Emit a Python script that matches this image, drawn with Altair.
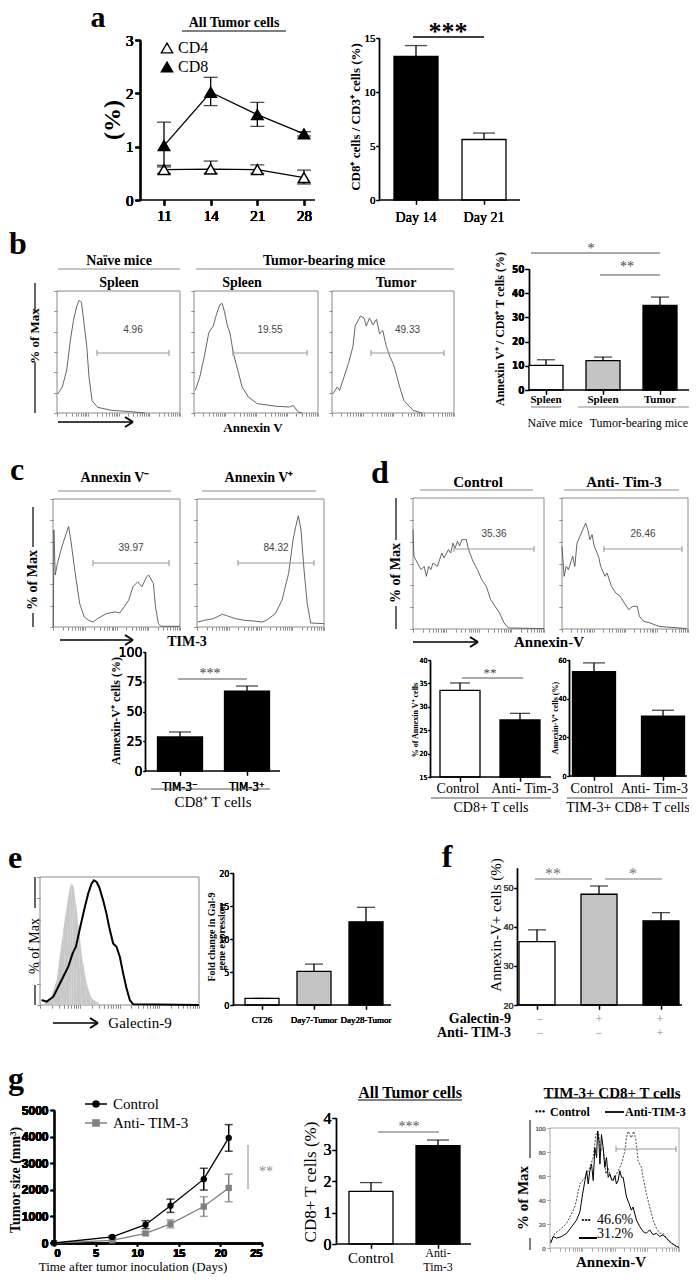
import math
import altair as alt

W, H = 681, 1266
OFF = 8


def P(v):
    return v - OFF


SERIF = "Liberation Serif"
SANS = "Liberation Sans"
NARROW = "Liberation Sans Narrow, DejaVu Sans Condensed, Liberation Sans"
GRAY = "#8a8a8a"
EMPTY = alt.Data(values=[{}])

# ---------------- data ----------------
# a (left): % of all tumor cells
a_days = ["11", "14", "21", "28"]
a_cd4 = [0.57, 0.58, 0.57, 0.42]
a_cd4_lo = [0.50, 0.50, 0.50, 0.30]
a_cd4_hi = [0.65, 0.73, 0.66, 0.56]
a_cd8 = [1.02, 2.02, 1.60, 1.24]
a_cd8_lo = [0.62, 1.77, 1.38, 1.20]
a_cd8_hi = [1.46, 2.30, 1.83, 1.28]
# a (right)
ar_cats = ["Day 14", "Day 21"]
ar_vals = [13.3, 5.6]
ar_errs = [1.0, 0.6]
# b histograms (x: 0-100 across plot, y: % of max)
b1_x = [0.7, 4.3, 7.9, 10.8, 13.4, 15.9, 18.1, 19.9, 21.7, 24.2, 26.0, 28.5, 33.0, 44.0, 62.0, 71.5]
b1_y = [17, 23, 38, 64, 82, 94, 100, 98, 82, 59, 32, 11, 5, 2.4, 1, 0]
b2_x = [1.1, 4.7, 8.3, 11.9, 15.5, 18.3, 20.9, 22.7, 24.5, 27.0, 29.0, 31.7, 35.3, 38.8, 44.0, 51.0, 66.0, 77.0, 80.0, 84.0, 87.0]
b2_y = [20, 32, 50, 71, 77, 88, 96, 97, 90, 77, 71, 53, 38, 23, 14, 8.3, 6, 5.3, 6.8, 0.9, 0]
b3_x = [0.7, 4.4, 6.2, 9.9, 13.5, 17.2, 19.0, 23.4, 26.3, 28.1, 30.7, 33.6, 36.5, 39.0, 41.6, 44.5, 47.4, 50.0, 51.8, 55.5, 59.0, 66.4, 73.7]
b3_y = [17, 23, 20, 32, 44, 59, 77, 86, 84, 77, 84, 78, 83, 70, 73, 59, 50, 44, 38, 23, 11, 2.4, 0]
b_gates = ["4.96", "19.55", "49.33"]
# b (right)
br_cats = ["s1", "s2", "t"]
br_labels = ["Spleen", "Spleen", "Tumor"]
br_vals = [10.2, 12.1, 35.0]
br_errs = [2.3, 1.5, 3.4]
# c histograms
c1_x = [0.3, 0.7, 1.75, 3.5, 7.0, 10.5, 12.3, 14.0, 17.5, 21.0, 24.6, 28.0, 31.6, 35.0, 42.0, 49.0, 52.6, 56.0, 59.6, 63.0, 66.7, 70.0, 73.7, 75.4, 79.0, 80.7, 83.0, 85.0, 100]
c1_y = [0, 96.7, 51.7, 63.4, 80, 93.4, 100, 86.7, 53.4, 23.3, 10, 6.7, 5, 8.3, 13.3, 15, 14, 20, 26.7, 40, 45, 40, 50, 51.7, 43.4, 20, 3.3, 0.7, 0.7]
c2_x = [0.7, 5.9, 12.9, 19.9, 23.3, 30.3, 37.3, 44.3, 51.2, 54.7, 61.7, 66.9, 72.1, 75.6, 77.7, 79.8, 81.9, 84.3, 86.8, 89.5, 100]
c2_y = [4.5, 6, 7.5, 11.4, 10.2, 7.5, 6, 5.4, 4.5, 6, 12, 24, 48, 78, 90, 100, 87, 51, 21, 3.6, 3]
c_gates = ["39.97", "84.32"]
# c bars
cb_cats = ["TIM-3⁻", "TIM-3⁺"]
cb_vals = [28.6, 67.2]
cb_errs = [4.2, 4.2]
# d histograms
d1_x = [0, 0.7, 3.4, 6.1, 8.5, 10.2, 11.9, 13.6, 15.3, 18.6, 22.0, 23.7, 27.1, 28.8, 30.5, 32.2, 33.9, 35.6, 37.3, 40.7, 42.4, 45.8, 49.2, 52.5, 55.9, 59.3, 62.7, 66.1, 69.5, 72.9, 100]
d1_y = [75.8, 55.5, 50.4, 45.3, 47.8, 40.2, 47.8, 45.3, 50.4, 47.8, 58, 54.2, 60.6, 58, 65.6, 61.8, 66.9, 63.4, 68.2, 68.2, 60.6, 51.7, 45.3, 37.7, 32.6, 22.4, 17.3, 12.2, 4.6, 0.8, 0.3]
d2_x = [0, 1.7, 3.4, 5.1, 8.5, 10.2, 11.9, 15.4, 18.8, 20.5, 22.2, 23.9, 25.6, 29.0, 30.7, 34.1, 35.8, 39.2, 42.7, 46.1, 49.5, 52.9, 56.3, 59.7, 61.4, 64.8, 70.0, 76.8, 99]
d2_y = [63.1, 40.2, 47.8, 45.3, 55.5, 47.8, 65.6, 73.3, 80.9, 75.8, 68.2, 72, 63.1, 55.5, 47.8, 40.2, 42.7, 32.6, 27.5, 25, 19.8, 14.8, 17.3, 17.3, 9.7, 5.9, 4.6, 2, 0.3]
d_gates = ["35.36", "26.46"]
# d bars
dl_cats = ["Control", "Anti- Tim-3"]
dl_vals = [33.5, 27.2]
dl_errs = [1.6, 1.4]
dr_cats = ["Control", "Anti- Tim-3"]
dr_vals = [54.0, 31.0]
dr_errs = [4.5, 3.0]
# e histogram
e_g_x = [1, 6.3, 10.5, 14.6, 16.7, 18.8, 19.9, 21.3, 23.4, 26.2, 29.3, 32.4, 37.7, 41.8]
e_g_y = [0, 3.9, 19.5, 58.4, 76.6, 92.2, 95.3, 92.2, 71.4, 40.3, 16.9, 5.2, 0.8, 0]
e_k_x = [1, 4.2, 8.4, 13.6, 17.8, 20.5, 22.6, 25.1, 28.2, 30.3, 32.4, 33.9, 35.6, 37.2, 39.7, 41.8, 43.5, 46.0, 48.1, 50.2, 52.3, 54.4, 56.5, 58.6, 100]
e_k_y = [3.9, 2.6, 6.5, 19.5, 29.9, 40.3, 45.5, 59.7, 76.6, 87, 94.8, 97.4, 96.1, 92.2, 81.8, 71.4, 61, 48.1, 45.5, 37.7, 24.7, 13, 3.9, 0.5, 0]
# e bars
eb_cats = ["CT26", "Day7-Tumor", "Day28-Tumor"]
eb_vals = [1.0, 5.1, 12.6]
eb_errs = [0.0, 1.1, 2.2]
# f bars
f_cats = ["1", "2", "3"]
f_vals = [36.2, 48.3, 41.5]
f_errs = [3.0, 2.1, 2.1]
f_gal = ["−", "+", "+"]
f_tim = ["−", "−", "+"]
# g tumor growth
g_days = [0, 7, 11, 14, 18, 21]
g_ctrl = [0, 230, 690, 1400, 2400, 3950]
g_ctrl_err = [0, 40, 150, 250, 410, 500]
g_anti = [0, 100, 360, 720, 1370, 2070]
g_anti_err = [0, 30, 60, 150, 370, 520]
# g middle bars
gm_cats = ["Control", "Anti-Tim-3"]
gm_vals = [1.67, 3.12]
gm_errs = [0.28, 0.18]
# g right histogram
gr_s_x = [0.5, 2.6, 5.2, 9.0, 12.9, 16.8, 20.6, 23.2, 25.3, 27.1, 28.4, 29.6, 30.9, 32.2, 33.5, 34.8, 36.1, 36.9, 37.9, 38.7, 39.9, 41.2, 42.5, 43.8, 45.1, 46.4, 47.7, 49.0, 50.3, 51.5, 52.8, 54.1, 55.4, 56.7, 58.0, 59.3, 61.3, 63.1, 64.4, 67.0, 69.6, 72.2, 74.7, 77.3, 79.9, 82.5, 85.1, 87.6, 90.2, 94.1, 97.9, 100]
gr_s_y = [4.1, 9.6, 8.2, 9.6, 12.3, 17.8, 23.3, 30.1, 45.2, 56.2, 64.4, 53.4, 64.4, 69.9, 56.2, 83.6, 75.4, 97.3, 89.1, 69.9, 94.5, 83.6, 67.1, 75.4, 58.9, 61.7, 57.5, 56.2, 60.3, 53.4, 56.2, 64.4, 58.9, 58.9, 50.7, 42.5, 37, 31.5, 34.2, 23.3, 17.8, 13.7, 12.3, 15.1, 11, 12.3, 9.6, 11, 8.2, 4.1, 1.4, 0.5]
gr_d_x = [0.5, 3.9, 7.7, 12.9, 15.5, 19.3, 23.2, 27.1, 30.9, 33.5, 35.6, 37.4, 39.2, 41.2, 43.3, 45.1, 47.7, 50.3, 52.8, 55.4, 58.0, 59.3, 60.6, 61.9, 63.1, 64.9, 66.5, 68.3, 70.9, 72.2, 74.7, 77.3, 79.9, 82.5, 85.1, 87.6, 90.2, 94.1, 97.9, 100]
gr_d_y = [5.5, 12.3, 15.1, 20.6, 26, 34.2, 53.4, 58.9, 67.1, 75.4, 94.5, 97.3, 80.8, 83.6, 61.7, 67.1, 56.2, 58.9, 64.4, 69.9, 80.8, 91.8, 97.3, 94.5, 91.8, 97.3, 90.4, 72.6, 67.1, 58.9, 45.2, 34.2, 23.3, 16.4, 12.3, 12.3, 8.2, 4.1, 1.4, 0.5]

WHITE, HATCH, BLACK = "#ffffff", "#c4c4c4", "#000000"

# axis tick positions for log-decade flow axes (style only)
LOGT = [round(d * 25 + 25 * math.log10(k), 2) for d in range(4) for k in range(1, 10)] + [100]


# ---------------- helpers ----------------
def T(s, x, y, size=13, bold=False, angle=0, align="center", font=SERIF, color="black",
      baseline="middle", lineHeight=None):
    kw = dict(text=s, fontSize=size, fontWeight="bold" if bold else "normal", align=align,
              baseline=baseline, font=font, color=color)
    if angle:
        kw["angle"] = angle
    if lineHeight:
        kw["lineHeight"] = lineHeight
    return alt.Chart(EMPTY).mark_text(**kw).encode(x=alt.value(P(x)), y=alt.value(P(y)))


def L(x1, y1, x2, y2, w=1.0, color="black", dash=None):
    kw = dict(color=color, strokeWidth=w)
    if dash:
        kw["strokeDash"] = dash
    return alt.Chart(EMPTY).mark_rule(**kw).encode(
        x=alt.value(P(x1)), y=alt.value(P(y1)), x2=alt.value(P(x2)), y2=alt.value(P(y2)))


def arrow(x1, x2, y, w=1.6):
    return [L(x1, y, x2, y, w), L(x2 - 8, y - 5, x2, y, w + 0.4), L(x2 - 8, y + 5, x2, y, w + 0.4)]


def gate(x1, x2, y, color="#9a9a9a"):
    return [L(x1, y, x2, y, 1.1, color), L(x1, y - 3, x1, y + 3, 1.1, color), L(x2, y - 3, x2, y + 3, 1.1, color)]


def pt(x, y, shape, size, fill, stroke="black"):
    return alt.Chart(EMPTY).mark_point(shape=shape, size=size, filled=True, fill=fill, stroke=stroke,
                                       strokeWidth=1.3, opacity=1).encode(x=alt.value(P(x)), y=alt.value(P(y)))


def histo(curves, x0, x1, ybot, ytop, ymax, frame_color=GRAY, ylabels=False, yvals=None):
    xsc = alt.Scale(domain=[0, 100], range=[P(x0), P(x1)], nice=False, zero=False)
    ysc = alt.Scale(domain=[0, ymax], range=[P(ybot), P(ytop)], nice=False, zero=False)
    xax = alt.Axis(orient="bottom", offset=P(ybot) - H, values=LOGT, labels=False, domain=False,
                   ticks=True, tickSize=3, tickColor=frame_color, tickWidth=0.8, title=None, grid=False)
    yv = yvals if yvals else [round(ymax * k / 6, 2) for k in range(7)]
    yax = alt.Axis(orient="left", offset=-P(x0), values=yv, labels=ylabels, domain=False, ticks=True,
                   tickSize=3, tickColor=frame_color, tickWidth=0.8, title=None, grid=False,
                   labelFontSize=6, labelColor="#777", labelFont=SANS, labelPadding=2)
    frame = alt.Chart(alt.Data(values=[{"x": 0, "x2": 100, "y": 0, "y2": ymax}])).mark_rect(
        fill="transparent", stroke=frame_color, strokeWidth=1).encode(
        x=alt.X("x:Q", scale=xsc, axis=xax), x2=alt.X2("x2"),
        y=alt.Y("y:Q", scale=ysc, axis=yax), y2=alt.Y2("y2"))
    layers = [frame]
    for xs, ys, kind, sty in curves:
        d = alt.Data(values=[{"x": a, "y": b, "i": i} for i, (a, b) in enumerate(zip(xs, ys))])
        m = alt.Chart(d).mark_area(**sty) if kind == "area" else alt.Chart(d).mark_line(**sty)
        layers.append(m.encode(x=alt.X("x:Q", scale=xsc, axis=xax),
                               y=alt.Y("y:Q", scale=ysc, axis=yax), order="i:Q"))
    return layers


def bar_panel(cats, vals, errs, fills, axis_x, c0, step, bw, ybot, ytop, ydom, yticks, x_end, cap,
              ylab_font=SERIF, ylab_size=12, ylab_weight="normal", ylab_color="black",
              xlab_font=None, xlab_size=12, xlab_pad=5, ytick=4):
    n = len(cats)
    pi = 1 - bw / step
    start = c0 - step / 2
    end = start + n * step
    rows = [{"cat": c, "val": v, "hi": v + e, "base": ydom[0], "fill": f}
            for c, v, e, f in zip(cats, vals, errs, fills)]
    data = alt.Data(values=rows)
    xax = alt.Axis(orient="bottom", offset=P(ybot) - H, domain=False, ticks=True, tickSize=4,
                   tickWidth=1.2, tickColor="black", labels=xlab_font is not None,
                   labelFont=xlab_font or SERIF, labelFontSize=xlab_size, labelColor="black",
                   labelPadding=xlab_pad, labelAngle=0, title=None, grid=False)
    xenc = alt.X("cat:N", sort=cats, axis=xax,
                 scale=alt.Scale(type="band", domain=cats, range=[P(start), P(end)],
                                 paddingInner=pi, paddingOuter=pi / 2))
    ysc = alt.Scale(domain=ydom, range=[P(ybot), P(ytop)], nice=False, zero=False)
    yax = alt.Axis(orient="left", offset=-P(axis_x), values=yticks, domain=True, domainColor="black",
                   domainWidth=1.3, ticks=True, tickSize=ytick, tickWidth=1.2, tickColor="black",
                   labelFont=ylab_font, labelFontSize=ylab_size, labelFontWeight=ylab_weight,
                   labelColor=ylab_color, labelPadding=1, title=None, grid=False)
    bars = alt.Chart(data).mark_bar(stroke="black", strokeWidth=1.3).encode(
        x=xenc, y=alt.Y("val:Q", scale=ysc, axis=yax), y2=alt.Y2("base"),
        color=alt.Color("fill:N", scale=None))
    rule = alt.Chart(data).mark_rule(color="black", strokeWidth=1.3).encode(
        x=xenc, y=alt.Y("val:Q", scale=ysc, axis=yax), y2=alt.Y2("hi"))
    capm = alt.Chart(data).mark_tick(color="black", thickness=1.3, size=cap, orient="horizontal").encode(
        x=xenc, y=alt.Y("hi:Q", scale=ysc, axis=yax))
    return [bars, rule, capm, L(axis_x, ybot, x_end, ybot, 1.3)]


layers = []

# ================= panel a =================
layers += [T("a", 98, 27, 30, True, baseline="alphabetic"),
           T("All Tumor cells", 234, 23, 14, True), L(182, 31, 286, 31, 1)]
a_xax = alt.Axis(orient="bottom", offset=P(200) - H, domain=False, tickSize=5, tickWidth=1.3,
                 tickColor="black", labelFont=SERIF, labelFontSize=15, labelColor="black",
                 labelPadding=3, labelAngle=0, title=None, grid=False)
a_x = alt.X("d:N", sort=a_days, axis=a_xax,
            scale=alt.Scale(type="point", domain=a_days, range=[P(164), P(304)], padding=0))
a_ysc = alt.Scale(domain=[0, 3], range=[P(200), P(40)], nice=False, zero=False)
a_yax = alt.Axis(orient="left", offset=-P(140), values=[0, 1, 2, 3], domainColor="black",
                 domainWidth=1.3, tickSize=5, tickWidth=1.3, tickColor="black", labelFont=SERIF,
                 labelFontSize=15, labelColor="black", labelPadding=2, title=None, grid=False)
for v, lo, hi, fill in [(a_cd4, a_cd4_lo, a_cd4_hi, "white"), (a_cd8, a_cd8_lo, a_cd8_hi, "black")]:
    d = alt.Data(values=[{"d": dd, "v": a, "lo": b, "hi": c} for dd, a, b, c in zip(a_days, v, lo, hi)])
    layers += [
        alt.Chart(d).mark_line(color="black", strokeWidth=1.3).encode(x=a_x, y=alt.Y("v:Q", scale=a_ysc, axis=a_yax)),
        alt.Chart(d).mark_rule(color="black", strokeWidth=1.3).encode(x=a_x, y=alt.Y("lo:Q", scale=a_ysc, axis=a_yax), y2=alt.Y2("hi")),
        alt.Chart(d).mark_tick(color="black", thickness=1.3, size=14, orient="horizontal").encode(x=a_x, y=alt.Y("hi:Q", scale=a_ysc, axis=a_yax)),
        alt.Chart(d).mark_tick(color="black", thickness=1.3, size=14, orient="horizontal").encode(x=a_x, y=alt.Y("lo:Q", scale=a_ysc, axis=a_yax)),
        alt.Chart(d).mark_point(shape="triangle-up", size=130, filled=True, fill=fill, stroke="black",
                                strokeWidth=1.5, opacity=1).encode(x=a_x, y=alt.Y("v:Q", scale=a_ysc, axis=a_yax)),
    ]
layers += [L(140, 200, 315, 200, 1.3),
           pt(167, 48, "triangle-up", 130, "white"), pt(167, 67, "triangle-up", 130, "black"),
           T("CD4", 178, 48, 16, align="left"), T("CD8", 178, 67, 16, align="left"),
           T("(%)", 113, 120, 24, True, angle=270)]
# a right
layers += bar_panel(ar_cats, ar_vals, ar_errs, [BLACK, WHITE], 379, 416, 68, 44, 200, 38, [0, 15],
                    [0, 5, 10, 15], 520, 22, ylab_size=11, xlab_font=SERIF, xlab_size=14, xlab_pad=6, ytick=3)
layers += [T("***", 448, 40, 26, True, baseline="alphabetic"), L(413, 37, 484, 37, 1.6),
           T("CD8⁺ cells / CD3⁺ cells (%)", 356, 117, 13, True, angle=270)]

# ================= panel b =================
layers += [T("b", 18, 254, 32, True, baseline="alphabetic"),
           T("Naïve mice", 119, 261, 14, True), L(58, 269, 180, 269, 1.2, GRAY),
           T("Tumor-bearing mice", 324, 261, 14, True), L(196, 269, 454, 269, 1.2, GRAY),
           T("Spleen", 119, 283, 14, True), T("Spleen", 242, 283, 14, True), T("Tumor", 396, 283, 14, True)]
hsty = {"color": "#555", "strokeWidth": 0.9}
layers += histo([(b1_x, b1_y, "line", hsty)], 57, 180, 413, 291, 108)
layers += histo([(b2_x, b2_y, "line", hsty)], 194, 318, 413, 291, 108)
layers += histo([(b3_x, b3_y, "line", hsty)], 332, 454, 413, 291, 108)
for (gx1, gx2), lab in zip([(97, 169), (233, 307), (371, 444)], b_gates):
    layers += gate(gx1, gx2, 353)
    layers.append(T(lab, (gx1 + gx2) / 2, 330, 10, font=SANS, color="#444"))
layers += [T("% of Max", 35, 336, 13, True, angle=270), L(35, 283, 35, 312, 1.2), L(35, 362, 35, 413, 1.2)]
layers += arrow(58, 133, 422)
layers += [T("Annexin V", 253, 428, 13, True)]
# b right
layers += bar_panel(br_cats, br_vals, br_errs, [WHITE, HATCH, BLACK], 529, 546, 57, 34, 390, 269, [0, 50],
                    [0, 10, 20, 30, 40, 50], 689, 18, ylab_font=NARROW, ylab_size=10, ylab_weight="bold")
for cx, lab in zip([546, 603, 660], br_labels):
    layers.append(T(lab, cx, 400, 11, True))
layers += [L(531, 407, 561, 407, 1.2, GRAY), L(578, 407, 689, 407, 1.2, GRAY),
           T("Naïve mice", 555, 423, 12), T("Tumor-bearing mice", 688, 423, 12, align="right"),
           T("*", 591, 249, 14, color="#444"), L(531, 253, 660, 253, 1, "#555"),
           T("**", 627, 267, 14, color="#444"), L(600, 275, 660, 275, 1, "#555"),
           T("Annexin V⁺ / CD8⁺ T cells (%)", 500, 329, 12, True, angle=270)]

# ================= panel c =================
layers += [T("c", 17, 480, 32, True, baseline="alphabetic"),
           T("Annexin V⁻", 115, 478, 14, True), L(58, 491, 171, 491, 1.2, GRAY),
           T("Annexin V⁺", 259, 478, 14, True), L(202, 491, 316, 491, 1.2, GRAY)]
layers += histo([(c1_x, c1_y, "line", hsty)], 53, 180, 627, 499, 127.4)
layers += histo([(c2_x, c2_y, "line", hsty)], 197, 324, 627, 499, 115)
for (gx1, gx2), lab in zip([(93, 169), (238, 314)], c_gates):
    layers += gate(gx1, gx2, 563)
    layers.append(T(lab, (gx1 + gx2) / 2, 548, 10, font=SANS, color="#444"))
layers += [T("% of Max", 33, 580, 14, True, angle=270), L(33, 507, 33, 547, 1.2), L(33, 613, 33, 627, 1.2)]
layers += arrow(60, 133, 640)
layers += [T("TIM-3", 187, 642, 14, True)]
layers += bar_panel(cb_cats, cb_vals, cb_errs, [BLACK, BLACK], 145, 180, 67, 45, 771, 652, [0, 100],
                    [0, 25, 50, 75, 100], 280, 22, ylab_font=NARROW, ylab_size=14,
                    xlab_font=NARROW, xlab_size=12, xlab_pad=6, ytick=2)
layers += [T("***", 210, 674, 14, color="#444"), L(178, 679, 247, 679, 1, "#555"),
           T("Annexin-V⁺ cells (%)", 116, 711, 12, True, angle=270),
           L(151, 789, 270, 789, 1.2, "#555"), T("CD8⁺ T cells", 213, 802, 15)]

# ================= panel d =================
layers += [T("d", 380, 483, 32, True, baseline="alphabetic"),
           T("Control", 478, 482, 15, True), L(420, 490, 533, 490, 1.2, GRAY),
           T("Anti- Tim-3", 624, 482, 15, True), L(564, 490, 679, 490, 1.2, GRAY)]
layers += histo([(d1_x, d1_y, "line", hsty)], 413, 544, 629, 498, 100)
layers += histo([(d2_x, d2_y, "line", hsty)], 562, 688, 629, 498, 100)
for (gx1, gx2), lab in zip([(454, 534), (604, 682)], d_gates):
    layers += gate(gx1, gx2, 549)
    layers.append(T(lab, (gx1 + gx2) / 2, 534, 10, font=SANS, color="#444"))
layers += [T("% of Max", 396, 573, 14, True, angle=270), L(396, 498, 396, 540, 1.2), L(396, 606, 396, 629, 1.2)]
layers += arrow(413, 478, 642)
layers += [T("Annexin-V", 549, 642, 15, True)]
layers += bar_panel(dl_cats, dl_vals, dl_errs, [WHITE, BLACK], 430, 460, 60, 40, 777, 660, [15, 40],
                    [15, 20, 25, 30, 35, 40], 551, 20, ylab_font=NARROW, ylab_size=7, ytick=2)
layers += [T("Control", 458, 789, 14), T("Anti- Tim-3", 525, 789, 14),
           T("**", 490, 673, 13, color="#444"), L(462, 678, 523, 678, 1, "#555"),
           T("% of Annexin V⁺ cells", 416, 720, 8, True, angle=270),
           L(431, 798, 551, 798, 1.2, "#555"), T("CD8+ T cells", 491, 808, 14)]
layers += bar_panel(dr_cats, dr_vals, dr_errs, [BLACK, BLACK], 569, 594, 69, 43, 776, 660, [0, 60],
                    [0, 20, 40, 60], 687, 22, ylab_font=NARROW, ylab_size=7, ytick=2)
layers += [T("Control", 592, 789, 14), T("Anti- Tim-3", 688, 789, 14, align="right"),
           T("Annexin-V⁺ cells (%)", 556, 718, 8, True, angle=270),
           L(567, 798, 687, 798, 1.2, "#555"), T("TIM-3+ CD8+ T cells", 628, 808, 14)]

# ================= panel e =================
layers += [T("e", 15, 868, 32, True, baseline="alphabetic")]
layers += histo([(e_g_x, e_g_y, "area", {"color": "#c8c8c8"}),
                 (e_k_x, e_k_y, "line", {"color": "black", "strokeWidth": 2})], 40, 199, 1005, 877, 100)
layers += [T("% of Max", 35, 946, 14, angle=270), L(35, 877, 35, 908, 1.2), L(35, 985, 35, 1005, 1.2)]
layers += arrow(53, 98, 1023)
layers += [T("Galectin-9", 140, 1023, 15)]
layers += bar_panel(eb_cats, eb_vals, eb_errs, [WHITE, HATCH, BLACK], 233, 262, 52, 34, 1005, 873, [0, 20],
                    [0, 5, 10, 15, 20], 391, 18, ylab_font=NARROW, ylab_size=9,
                    xlab_font=SERIF, xlab_size=9, xlab_pad=6, ytick=3)
layers += [T("Fold change in Gal-9", 212, 937, 10, True, angle=270),
           T("gene expression", 222, 937, 10, True, angle=270)]

# ================= panel f =================
layers += [T("f", 447, 867, 32, True, baseline="alphabetic")]
layers += bar_panel(f_cats, f_vals, f_errs, [WHITE, HATCH, BLACK], 517, 537, 62, 36, 1005, 868, [20, 55],
                    [20, 30, 40, 50], 682, 18, ylab_font=SANS, ylab_size=9, ylab_color="#444", ytick=3)
layers += [T("**", 553, 874, 16, color="#777"), L(535, 879, 592, 879, 1, "#777"),
           T("*", 633, 874, 16, color="#777"), L(605, 879, 662, 879, 1, "#777"),
           T("Annexin-V+ cells (%)", 496, 925, 15, angle=270),
           T("Galectin-9", 511, 1019, 14, True, align="right"),
           T("Anti- TIM-3", 511, 1033, 14, True, align="right")]
for cx, g1, t1 in zip([540, 599, 660], f_gal, f_tim):
    layers += [T(g1, cx, 1019, 12, color="#888"), T(t1, cx, 1033, 12, color="#888")]

# ================= panel g =================
layers += [T("g", 16, 1089, 32, True, baseline="alphabetic")]
G_BOT = 1243
g_xsc = alt.Scale(domain=[0, 25], range=[P(54), P(262)], nice=False, zero=False)
g_ysc = alt.Scale(domain=[0, 5000], range=[P(G_BOT), P(1110)], nice=False, zero=False)
g_xax = alt.Axis(orient="bottom", offset=P(G_BOT) - H, values=[0, 5, 10, 15, 20, 25], domainColor="black",
                 domainWidth=1.3, tickSize=3, tickWidth=1.2, tickColor="black", labelFont=SANS,
                 labelFontSize=11, labelFontWeight="bold", labelColor="black", labelPadding=1,
                 title=None, grid=False, format="d")
g_yax = alt.Axis(orient="left", offset=-P(54), values=[0, 1000, 2000, 3000, 4000, 5000], domainColor="black",
                 domainWidth=1.3, tickSize=4, tickWidth=1.2, tickColor="black", labelFont=SANS,
                 labelFontSize=12, labelFontWeight="bold", labelColor="black", labelPadding=2,
                 title=None, grid=False, format="d")
for v, e, col, shape in [(g_anti, g_anti_err, "#808080", "square"), (g_ctrl, g_ctrl_err, "black", "circle")]:
    d = alt.Data(values=[{"t": t, "v": a, "lo": a - b, "hi": a + b} for t, a, b in zip(g_days, v, e)])
    gx = alt.X("t:Q", scale=g_xsc, axis=g_xax)
    layers += [
        alt.Chart(d).mark_line(color=col, strokeWidth=1.3).encode(x=gx, y=alt.Y("v:Q", scale=g_ysc, axis=g_yax)),
        alt.Chart(d).mark_rule(color=col, strokeWidth=1.5).encode(x=gx, y=alt.Y("lo:Q", scale=g_ysc, axis=g_yax), y2=alt.Y2("hi")),
        alt.Chart(d).mark_tick(color=col, thickness=1.5, size=8, orient="horizontal").encode(x=gx, y=alt.Y("hi:Q", scale=g_ysc, axis=g_yax)),
        alt.Chart(d).mark_tick(color=col, thickness=1.5, size=8, orient="horizontal").encode(x=gx, y=alt.Y("lo:Q", scale=g_ysc, axis=g_yax)),
        alt.Chart(d).mark_point(shape=shape, size=40, filled=True, color=col, opacity=1).encode(x=gx, y=alt.Y("v:Q", scale=g_ysc, axis=g_yax)),
    ]
layers += [L(85, 1104, 107, 1104, 1.5), pt(96, 1104, "circle", 40, "black"), T("Control", 113, 1104, 15, align="left"),
           L(85, 1123, 107, 1123, 1.5, "#808080"), pt(96, 1123, "square", 40, "#808080", "#808080"),
           T("Anti- TIM-3", 113, 1123, 15, align="left"),
           T("Tumor size (mm³)", 16, 1180, 14, True, angle=270),
           T("Time after tumor inoculation (Days)", 133, 1267, 13),
           L(248, 1145, 248, 1189, 1, "#888"), T("**", 266, 1172, 14, color="#888")]
# g middle
layers += bar_panel(gm_cats, gm_vals, gm_errs, [WHITE, BLACK], 336, 371, 67, 44, 1244, 1118, [0, 4],
                    [0, 1, 2, 3, 4], 471, 22, ylab_font=SERIF, ylab_size=16)
layers += [T("All Tumor cells", 410, 1093, 16, True), L(358, 1100, 462, 1100, 1.2),
           T("***", 409, 1127, 14, color="#555"), L(378, 1132, 439, 1132, 1, "#666"),
           T("CD8+ T cells (%)", 311, 1182, 17, angle=270),
           T("Control", 371, 1258, 15), T("Anti-", 438, 1253, 12), T("Tim-3", 438, 1266.5, 12)]
# g right
layers += histo([(gr_d_x, gr_d_y, "line", {"color": "#333", "strokeWidth": 0.9, "strokeDash": [2, 1.5]}),
                 (gr_s_x, gr_s_y, "line", {"color": "black", "strokeWidth": 1.0})],
                550, 679, 1248, 1128, 100, frame_color="#aaa", ylabels=True, yvals=[0, 20, 40, 60, 80, 100])
layers += gate(616, 676, 1149, "#999")
layers += [T("TIM-3+ CD8+ T cells", 612, 1093, 15, True), L(544, 1098, 680, 1098, 1.2),
           T("•••", 540, 1112, 10), T("Control", 550, 1112, 12, True, align="left"),
           L(605, 1112, 624, 1112, 1.8), T("Anti-TIM-3", 625, 1112, 12, True, align="left"),
           T("•••", 586, 1220, 9), T("46.6%", 597, 1220, 14, align="left"),
           L(579, 1238, 597, 1238, 2), T("31.2%", 597, 1234, 14, align="left"),
           T("% of Max", 523, 1198, 15, True, angle=270), L(530, 1120, 530, 1158, 1), L(530, 1238, 530, 1250, 1),
           T("Annexin-V", 611, 1262, 15, True)]

chart = alt.layer(*layers).properties(
    width=W, height=H, padding=0, autosize=alt.AutoSizeParams(type="none")
).resolve_scale(x="independent", y="independent").configure_view(stroke=None)

chart.save("out.html", embed_options={"renderer": "svg", "actions": False})
